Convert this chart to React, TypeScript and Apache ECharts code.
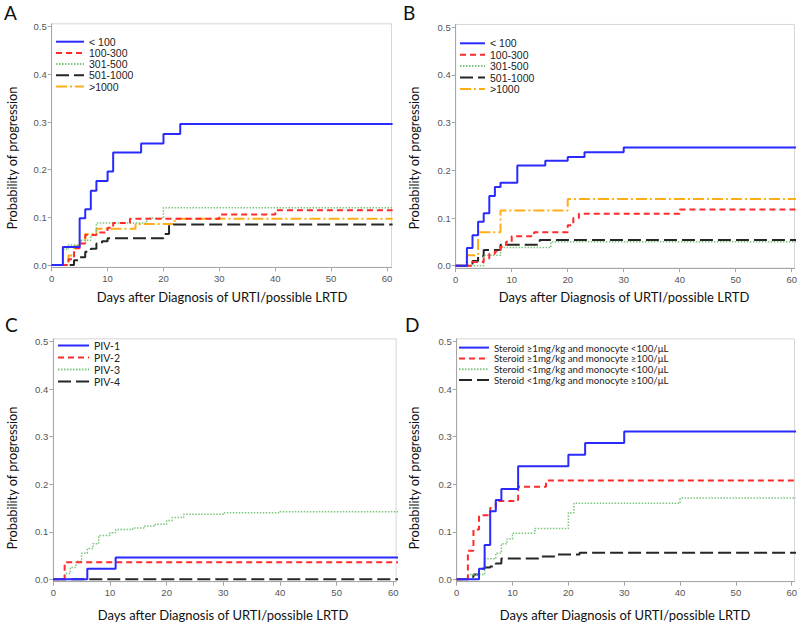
import React, { useEffect, useRef } from "react";
import * as echarts from "echarts";

// ---- tick labels ----
const X_TICKS = [0, 10, 20, 30, 40, 50, 60];
const Y_TICKS = [0, 0.1, 0.2, 0.3, 0.4, 0.5];

// ---- Panel A: monocyte count groups ----
const A_NAMES = ["< 100", "100-300", "301-500", "501-1000", ">1000"];
const aLt100 = [[0, 0], [2, 0.038], [5, 0.098], [6, 0.117], [7, 0.156], [8, 0.176], [10, 0.196], [11, 0.236], [16, 0.255], [20, 0.275], [23, 0.296], [61, 0.296]];
const a100to300 = [[0, 0], [3, 0.012], [4, 0.035], [5, 0.045], [6, 0.063], [8, 0.068], [10, 0.078], [11, 0.088], [14, 0.097], [30, 0.106], [40, 0.115], [61, 0.115]];
const a301to500 = [[0, 0], [2, 0.033], [3, 0.042], [5, 0.052], [7, 0.062], [8, 0.088], [17, 0.098], [20, 0.12], [61, 0.12]];
const a501to1000 = [[0, 0], [4, 0.01], [5, 0.016], [6, 0.028], [7, 0.034], [8, 0.045], [9, 0.05], [10, 0.056], [20, 0.065], [21, 0.085], [61, 0.085]];
const aGt1000 = [[0, 0], [3, 0.02], [4, 0.04], [5, 0.05], [6, 0.065], [8, 0.076], [15, 0.086], [22, 0.097], [61, 0.097]];

// ---- Panel B: lymphocyte count groups ----
const B_NAMES = ["< 100", "100-300", "301-500", "501-1000", ">1000"];
const bLt100 = [[0, 0], [2, 0.037], [3, 0.064], [4, 0.092], [5, 0.11], [6, 0.146], [7, 0.165], [8, 0.174], [11, 0.21], [16, 0.22], [20, 0.228], [23, 0.238], [30, 0.248], [61, 0.248]];
const b100to300 = [[0, 0], [3, 0.008], [5, 0.015], [6, 0.025], [7, 0.03], [8, 0.04], [9, 0.05], [10, 0.062], [14, 0.07], [20, 0.085], [21, 0.1], [22, 0.109], [40, 0.118], [61, 0.118]];
const b301to500 = [[0, 0], [5, 0.022], [8, 0.038], [17, 0.05], [61, 0.05]];
const b501to1000 = [[0, 0], [3, 0.01], [4, 0.02], [5, 0.033], [8, 0.044], [15, 0.054], [61, 0.054]];
const bGt1000 = [[0, 0], [2, 0.022], [4, 0.07], [8, 0.116], [20, 0.14], [61, 0.14]];

// ---- Panel C: PIV types ----
const C_NAMES = ["PIV-1", "PIV-2", "PIV-3", "PIV-4"];
const cPiv1 = [[0, 0], [6, 0.022], [11, 0.046], [61, 0.046]];
const cPiv2 = [[0, 0], [2, 0.036], [61, 0.036]];
const cPiv3 = [[0, 0], [2, 0.012], [3, 0.025], [4, 0.038], [5, 0.055], [6, 0.065], [7, 0.075], [8, 0.092], [10, 0.098], [11, 0.105], [14, 0.108], [16, 0.112], [18, 0.116], [20, 0.124], [21, 0.13], [23, 0.137], [30, 0.14], [40, 0.142], [61, 0.142]];
const cPiv4 = [[0, 0], [61, 0]];

// ---- Panel D: steroid / monocyte ----
const D_NAMES = [
  "Steroid ≥1mg/kg and monocyte <100/μL",
  "Steroid ≥1mg/kg and monocyte ≥100/μL",
  "Steroid <1mg/kg and monocyte <100/μL",
  "Steroid <1mg/kg and monocyte ≥100/μL",
];
const dHiLow = [[0, 0], [4, 0.022], [5, 0.072], [6, 0.143], [7, 0.167], [8, 0.19], [11, 0.238], [20, 0.262], [23, 0.287], [30, 0.311], [61, 0.311]];
const dHiHigh = [[0, 0], [2, 0.06], [3, 0.105], [4, 0.135], [6, 0.15], [7, 0.165], [11, 0.195], [16, 0.208], [61, 0.208]];
const dLoLow = [[0, 0], [2, 0.01], [5, 0.043], [7, 0.055], [8, 0.075], [9, 0.085], [10, 0.097], [14, 0.107], [20, 0.14], [21, 0.16], [40, 0.171], [61, 0.171]];
const dLoHigh = [[0, 0], [2, 0.005], [3, 0.01], [4, 0.022], [5, 0.025], [6, 0.027], [7, 0.033], [8, 0.044], [15, 0.048], [18, 0.052], [22, 0.056], [61, 0.056]];

// ---- styles ----
const STY = {
  blue: { color: "#2a2aff", width: 2, type: "solid" },
  red: { color: "#ff2a2a", width: 2, type: [6, 4] },
  green: { color: "#7cc47c", width: 1.5, type: [1.5, 1.5] },
  black: { color: "#262626", width: 2, type: [13, 5] },
  orange: { color: "#ffae1a", width: 2, type: [11, 3, 2, 3] },
} as any;

const Y_MIN = -0.005;
const Y_MAX = 0.506;

const TICK_FONT = "'Liberation Sans', Arial, sans-serif";
const TITLE_FONT = "Lato, 'Noto Sans', sans-serif";
const ARIAL = "'Liberation Sans', Arial, sans-serif";

const PANELS = [
  { letter: "A", x0: 51.7, x60: 387, y0: 265, y05: 26.7, xmax: 60.8, lx: 4, ly: 13, titleX: 222, titleY: 297, yTitleX: 12, yTitleY: 158,
    legend: { left: 55, top: 36.2, iw: 28, gap: 0.2, lh: 11, fs: 10.5, ff: ARIAL },
    names: A_NAMES, data: [aLt100, a100to300, a301to500, a501to1000, aGt1000], sty: ["blue", "red", "green", "black", "orange"] },
  { letter: "B", x0: 455.7, x60: 793, y0: 265.7, y05: 27.3, xmax: 60.5, lx: 403, ly: 13, titleX: 624, titleY: 297, yTitleX: 414, yTitleY: 158,
    legend: { left: 459, top: 37.8, iw: 25, gap: 0.4, lh: 11, fs: 10.5, ff: ARIAL },
    names: B_NAMES, data: [bLt100, b100to300, b301to500, b501to1000, bGt1000], sty: ["blue", "red", "green", "black", "orange"] },
  { letter: "C", x0: 53.3, x60: 393.3, y0: 579.3, y05: 341.7, xmax: 60.5, lx: 5, ly: 325, titleX: 223, titleY: 615, yTitleX: 12, yTitleY: 478,
    legend: { left: 57, top: 340, iw: 31, gap: 1, lh: 11, fs: 10.5, ff: TITLE_FONT },
    names: C_NAMES, data: [cPiv1, cPiv2, cPiv3, cPiv4], sty: ["blue", "red", "green", "black"] },
  { letter: "D", x0: 456.7, x60: 793.3, y0: 579.3, y05: 341.7, xmax: 60.5, lx: 405, ly: 325, titleX: 625, titleY: 615, yTitleX: 414, yTitleY: 478,
    legend: { left: 458, top: 342.2, iw: 30, gap: 0, lh: 10.8, fs: 9.7, ff: TITLE_FONT },
    names: D_NAMES, data: [dHiLow, dHiHigh, dLoLow, dLoHigh], sty: ["blue", "red", "green", "black"] },
];

export default function App() {
  const ref = useRef<HTMLDivElement>(null);
  useEffect(() => {
    if (!ref.current) return;
    const chart = echarts.init(ref.current, null, { renderer: "svg" });
    const grid: any[] = [];
    const xAxis: any[] = [];
    const yAxis: any[] = [];
    const series: any[] = [];
    const legend: any[] = [];
    const graphic: any[] = [];
    PANELS.forEach((p, i) => {
      const pxPerDay = (p.x60 - p.x0) / 60;
      const pxPerUnit = (p.y0 - p.y05) / 0.5;
      grid.push({
        left: p.x0,
        top: p.y05 - (Y_MAX - 0.5) * pxPerUnit,
        width: pxPerDay * p.xmax,
        height: (Y_MAX - Y_MIN) * pxPerUnit,
        show: true,
        borderColor: "#d6d6d6",
        borderWidth: 1,
        backgroundColor: "transparent",
        containLabel: false,
      });
      xAxis.push({
        type: "value",
        gridIndex: i,
        min: 0,
        max: p.xmax,
        splitLine: { show: false },
        axisLine: { show: true, onZero: false, lineStyle: { color: "#a6a6a6", width: 1 } },
        axisTick: { show: true, length: 4, customValues: X_TICKS, lineStyle: { color: "#a6a6a6" } },
        axisLabel: { customValues: X_TICKS, color: "#555", fontSize: 9.5, fontFamily: TICK_FONT, margin: 6 },
      });
      yAxis.push({
        type: "value",
        gridIndex: i,
        min: Y_MIN,
        max: Y_MAX,
        splitLine: { show: false },
        axisLine: { show: true, onZero: false, lineStyle: { color: "#a6a6a6", width: 1 } },
        axisTick: { show: true, length: 4, customValues: Y_TICKS, lineStyle: { color: "#a6a6a6" } },
        axisLabel: { customValues: Y_TICKS, color: "#555", fontSize: 9.5, fontFamily: TICK_FONT, margin: 5, formatter: (v: number) => v.toFixed(1) },
      });
      p.names.forEach((name, k) => {
        const s = STY[p.sty[k]];
        series.push({
          type: "line",
          name,
          xAxisIndex: i,
          yAxisIndex: i,
          step: "end",
          symbol: "none",
          clip: true,
          z: 10 - k,
          lineStyle: { color: s.color, width: s.width, type: s.type },
          itemStyle: { color: s.color },
          data: p.data[k],
        });
      });
      legend.push({
        orient: "vertical",
        left: p.legend.left,
        top: p.legend.top,
        padding: 0,
        itemWidth: p.legend.iw,
        itemHeight: p.legend.lh,
        itemGap: p.legend.gap,
        selectedMode: false,
        itemStyle: { opacity: 0 },
        data: p.names,
        textStyle: { fontSize: p.legend.fs, fontFamily: p.legend.ff, color: "#222", lineHeight: p.legend.lh },
      });
      graphic.push({
        type: "text",
        left: p.lx,
        top: p.ly - 10,
        style: { text: p.letter, fontSize: 19, fontFamily: TITLE_FONT, fill: "#111" },
      });
      graphic.push({
        type: "text",
        x: p.titleX,
        y: p.titleY,
        style: { text: "Days after Diagnosis of URTI/possible LRTD", fontSize: 13, fontFamily: TITLE_FONT, fill: "#111", textAlign: "center", textVerticalAlign: "middle" },
      });
      graphic.push({
        type: "text",
        x: p.yTitleX,
        y: p.yTitleY,
        rotation: Math.PI / 2,
        style: { text: "Probability of progression", fontSize: 12.8, fontFamily: TITLE_FONT, fill: "#111", textAlign: "center", textVerticalAlign: "middle" },
      });
    });
    chart.setOption({
      animation: false,
      backgroundColor: "#ffffff",
      grid,
      xAxis,
      yAxis,
      legend,
      series,
      graphic,
    });
    return () => chart.dispose();
  }, []);
  return <div ref={ref} style={{ position: "absolute", left: 0, top: 0, width: 800, height: 624 }} />;
}
